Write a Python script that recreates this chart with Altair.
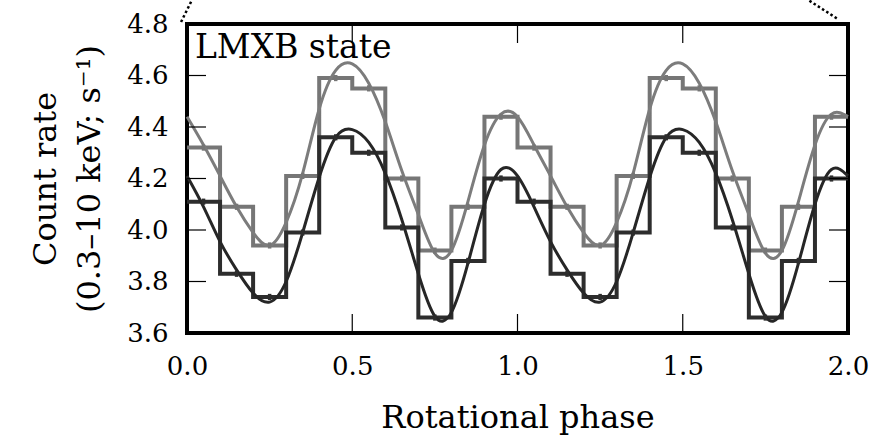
import altair as alt
import pandas as pd

# ---------------- data ----------------
# phase-binned light curve (10 bins per cycle), left bin edges
bin_left = [0.0, 0.1, 0.2, 0.3, 0.4, 0.5, 0.6, 0.7, 0.8, 0.9]
gray_hist = [4.32, 4.09, 3.94, 4.21, 4.59, 4.55, 4.20, 3.92, 4.09, 4.44]
dark_hist = [4.11, 3.83, 3.74, 3.99, 4.36, 4.30, 4.01, 3.66, 3.88, 4.20]
hist_err = [0.012, 0.012, 0.012, 0.012, 0.012, 0.012, 0.012, 0.012, 0.012, 0.012]

# smooth model curves (one cycle)
curve_phase = [0.00, 0.05, 0.10, 0.15, 0.20, 0.25, 0.30, 0.35, 0.40, 0.45,
               0.50, 0.55, 0.60, 0.65, 0.70, 0.75, 0.80, 0.85, 0.90, 0.95]
gray_curve = [4.44, 4.33, 4.21, 4.09, 3.99, 3.94, 4.03, 4.22, 4.47, 4.62,
              4.645, 4.57, 4.42, 4.23, 4.06, 3.91, 3.92, 4.11, 4.33, 4.45]
dark_curve = [4.21, 4.09, 3.955, 3.845, 3.755, 3.72, 3.80, 3.99, 4.205, 4.36,
              4.39, 4.34, 4.22, 4.04, 3.83, 3.665, 3.68, 3.87, 4.10, 4.235]

n_cycles = [0, 1]
x_ticks = [0.0, 0.5, 1.0, 1.5, 2.0]
y_ticks = [3.6, 3.8, 4.0, 4.2, 4.4, 4.6, 4.8]
x_dom = [0.0, 2.0]
y_dom = [3.6, 4.8]

annotation = "LMXB state"
# dotted connector lines leaving the panel's top corners (data units)
conn_x = [-0.018, 1.966]
conn_y = [4.808, 4.822]
conn_x2 = [0.015, 1.880]
conn_y2 = [4.893, 4.893]

# ---------------- layout / style ----------------
W, H = 661, 309
FONT = "DejaVu Serif"
DARK = "#2d2d2d"
GRAY = "#767676"
TICK_PX = 19

xs = alt.Scale(domain=x_dom, nice=False, zero=False)
ys = alt.Scale(domain=y_dom, nice=False, zero=False)

# ---------------- tables ----------------
hist_rows = []
for series, vals in (("gray", gray_hist), ("dark", dark_hist)):
    for c in n_cycles:
        for b, v, e in zip(bin_left, vals, hist_err):
            hist_rows.append({"series": series, "x": b + c, "y": v,
                              "xc": b + c + 0.05, "lo": v - e, "hi": v + e})
    hist_rows.append({"series": series, "x": x_dom[1], "y": vals[-1],
                      "xc": None, "lo": None, "hi": None})
hist = pd.DataFrame(hist_rows)

curve_rows = []
for series, vals in (("gray", gray_curve), ("dark", dark_curve)):
    for c in n_cycles:
        for p, v in zip(curve_phase, vals):
            curve_rows.append({"series": series, "x": p + c, "y": v})
    curve_rows.append({"series": series, "x": x_dom[1], "y": vals[0]})
curve = pd.DataFrame(curve_rows)

xlen = TICK_PX * (x_dom[1] - x_dom[0]) / W
ylen = TICK_PX * (y_dom[1] - y_dom[0]) / H
tick_rows = []
for t in x_ticks:
    tick_rows.append({"x": t, "x2": t, "y": y_dom[0], "y2": y_dom[0] + ylen})
    tick_rows.append({"x": t, "x2": t, "y": y_dom[1], "y2": y_dom[1] - ylen})
for t in y_ticks:
    tick_rows.append({"x": x_dom[0], "x2": x_dom[0] + xlen, "y": t, "y2": t})
    tick_rows.append({"x": x_dom[1], "x2": x_dom[1] - xlen, "y": t, "y2": t})
ticks = pd.DataFrame(tick_rows)

conn = pd.DataFrame({"x": conn_x, "y": conn_y, "x2": conn_x2, "y2": conn_y2})

x_axis = alt.Axis(values=x_ticks, format=".1f", ticks=False, domain=False, grid=False,
                  labelFlush=False, labelFont=FONT, labelFontSize=26, labelColor="black",
                  labelPadding=20,
                  title="Rotational phase", titleFont=FONT, titleFontSize=32,
                  titleFontWeight="normal", titleColor="black", titlePadding=23)
y_axis = alt.Axis(values=y_ticks, format=".1f", ticks=False, domain=False, grid=False,
                  labelFlush=False, labelFont=FONT, labelFontSize=26, labelColor="black",
                  labelPadding=19,
                  title=["Count rate", "(0.3–10 keV; s⁻¹)"], titleFont=FONT,
                  titleFontSize=32, titleFontWeight="normal", titleColor="black",
                  titlePadding=20, titleLineHeight=44)

color_scale = alt.Scale(domain=["gray", "dark"], range=[GRAY, DARK])

base_axes = alt.Chart(curve).mark_point(opacity=0).encode(
    x=alt.X("x:Q", scale=xs, axis=x_axis),
    y=alt.Y("y:Q", scale=ys, axis=y_axis),
)

hist_gray = alt.Chart(hist[hist.series == "gray"]).mark_line(
    interpolate="step-after", strokeWidth=4, color=GRAY, strokeJoin="miter"
).encode(x=alt.X("x:Q", scale=xs), y=alt.Y("y:Q", scale=ys))

hist_dark = alt.Chart(hist[hist.series == "dark"]).mark_line(
    interpolate="step-after", strokeWidth=4, color=DARK, strokeJoin="miter"
).encode(x=alt.X("x:Q", scale=xs), y=alt.Y("y:Q", scale=ys))

err = alt.Chart(hist.dropna()).mark_rule(strokeWidth=3.5).encode(
    x=alt.X("xc:Q", scale=xs), y=alt.Y("lo:Q", scale=ys), y2="hi:Q",
    color=alt.Color("series:N", scale=color_scale, legend=None))

curve_gray = alt.Chart(curve[curve.series == "gray"]).mark_line(
    interpolate="natural", strokeWidth=3, color="#7c7c7c"
).encode(x=alt.X("x:Q", scale=xs), y=alt.Y("y:Q", scale=ys))

curve_dark = alt.Chart(curve[curve.series == "dark"]).mark_line(
    interpolate="natural", strokeWidth=3, color="#262626"
).encode(x=alt.X("x:Q", scale=xs), y=alt.Y("y:Q", scale=ys))

tick_layer = alt.Chart(ticks).mark_rule(color="black", strokeWidth=1.2).encode(
    x=alt.X("x:Q", scale=xs), x2="x2:Q", y=alt.Y("y:Q", scale=ys), y2="y2:Q")

conn_layer = alt.Chart(conn).mark_rule(color="black", strokeWidth=2.5,
                                        strokeDash=[2.5, 2.5], clip=False).encode(
    x=alt.X("x:Q", scale=xs), x2="x2:Q", y=alt.Y("y:Q", scale=ys), y2="y2:Q")

label = alt.Chart(pd.DataFrame({"x": [0.024], "y": [4.668], "t": [annotation]})).mark_text(
    align="left", baseline="alphabetic", font=FONT, fontSize=33, color="black"
).encode(x=alt.X("x:Q", scale=xs), y=alt.Y("y:Q", scale=ys), text="t:N")

chart = alt.layer(
    base_axes, hist_gray, curve_gray, hist_dark, curve_dark, err, tick_layer, conn_layer, label
).properties(
    width=W, height=H,
    background="white",
    autosize=alt.AutoSizeParams(type="none"),
    padding={"left": 187, "top": 24, "right": 36, "bottom": 110},
).configure_view(
    stroke="black", strokeWidth=4
)

chart.save("out.html", embed_options={"renderer": "svg", "actions": False})
